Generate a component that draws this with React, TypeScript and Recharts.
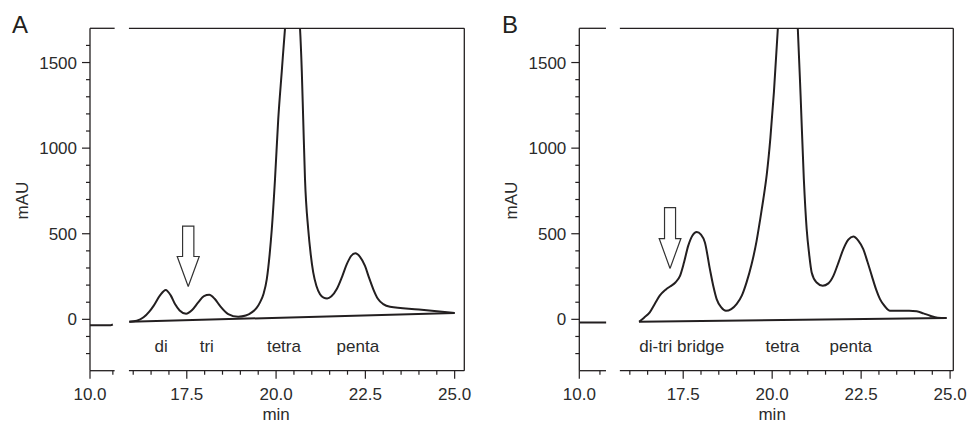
import { LineChart, Line, XAxis, YAxis, ReferenceLine, ReferenceDot } from "recharts";

const INK = "#231f20";
const TEXT = "#2b2b2b";
const FONT = "'Liberation Sans', Arial, sans-serif";
const FS = 17;

// y axis (mAU)
const yTicks = [-200, -100, 0, 100, 200, 300, 400, 500, 600, 700, 800, 900, 1000, 1100, 1200, 1300, 1400, 1500, 1600];
const yMajor = [0, 500, 1000, 1500];

// x axis (min), broken between the stub and the main run
const leftTicks = [10.0, 10.5];
const rightTicks = [16.0, 16.5, 17.0, 17.5, 18.0, 18.5, 19.0, 19.5, 20.0, 20.5, 21.0, 21.5, 22.0, 22.5, 23.0, 23.5, 24.0, 24.5, 25.0];
const xMajor = [10.0, 17.5, 20.0, 22.5, 25.0];
const xMajorLabels = ["10.0", "17.5", "20.0", "22.5", "25.0"];

// panel A
const timeA = [15.89, 16.1, 16.29, 16.45, 16.57, 16.75, 16.91, 17.05, 17.17, 17.3, 17.48, 17.65, 17.82, 17.98, 18.13, 18.28, 18.43, 18.66, 18.94, 19.15, 19.32, 19.45, 19.55, 19.65, 19.74, 19.82, 19.88, 19.97, 20.06, 20.16, 20.25, 20.46, 20.67, 20.72, 20.76, 20.81, 20.9, 20.97, 21.04, 21.13, 21.23, 21.33, 21.43, 21.55, 21.7, 21.85, 21.98, 22.1, 22.22, 22.35, 22.49, 22.6, 22.72, 22.85, 23.0, 23.19, 24.0, 25.0];
const signalA = [-14, -8, 12, 45, 79, 140, 172, 140, 89, 52, 33, 55, 99, 135, 143, 120, 79, 31, 15, 22, 41, 65, 99, 150, 235, 380, 526, 818, 1167, 1450, 1700, 2100, 1700, 1450, 1167, 818, 526, 380, 274, 195, 147, 127, 122, 135, 177, 250, 322, 370, 386, 365, 312, 245, 177, 120, 89, 73, 58, 37];
const baseTimeA = [15.89, 25.0];
const baseValueA = [-14, 37];
const stubTimeA = [10.0, 10.45, 10.5];
const stubValueA = [-35, -35, -30];
const labelTextA = ["di", "tri", "tetra", "penta"];
const labelTimeA = [16.78, 18.06, 20.22, 22.29];

// panel B
const timeB = [16.26, 16.4, 16.56, 16.7, 16.84, 17.0, 17.13, 17.28, 17.41, 17.52, 17.64, 17.76, 17.88, 18.0, 18.11, 18.25, 18.35, 18.44, 18.57, 18.7, 18.85, 19.0, 19.15, 19.28, 19.42, 19.56, 19.66, 19.75, 19.85, 19.95, 20.05, 20.16, 20.44, 20.72, 20.8, 20.89, 20.97, 21.04, 21.11, 21.25, 21.42, 21.58, 21.72, 21.86, 22.0, 22.14, 22.28, 22.42, 22.56, 22.68, 22.8, 22.92, 23.03, 23.17, 23.31, 23.59, 23.85, 24.06, 24.25, 24.44, 24.65, 24.9];
const signalB = [-14, 10, 41, 90, 138, 172, 192, 215, 254, 330, 429, 490, 510, 495, 449, 293, 190, 118, 70, 50, 60, 89, 140, 216, 320, 455, 580, 700, 850, 1060, 1330, 1700, 2300, 1700, 1300, 818, 526, 380, 274, 215, 196, 210, 254, 330, 410, 465, 484, 460, 410, 335, 254, 175, 118, 75, 50, 50, 50, 47, 35, 21, 10, 8];
const baseTimeB = [16.26, 24.9];
const baseValueB = [-14, 8];
const stubTimeB = [10.0, 10.65];
const stubValueB = [-18, -18];
const labelTextB = ["di-tri bridge", "tetra", "penta"];
const labelTimeB = [17.46, 20.29, 22.21];

const labelValue = -161;

type Arrow = { t: number; tip: number; neck: number; top: number; shaft: number; head: number };
const arrowA: Arrow = { t: 17.54, tip: 192, neck: 367, top: 545, shaft: 0.158, head: 0.308 };
const arrowB: Arrow = { t: 17.13, tip: 297, neck: 472, top: 653, shaft: 0.155, head: 0.305 };

type PanelProps = {
  letter: string;
  left: number;
  width: number;
  margin: { top: number; right: number; bottom: number; left: number };
  xMin: number;
  xMax: number;
  stubScale: number;
  gap: [number, number];
  times: number[];
  signal: number[];
  baseTime: number[];
  baseValue: number[];
  stubTime: number[];
  stubValue: number[];
  labelText: string[];
  labelTime: number[];
  arrow: Arrow;
};

function Panel(p: PanelProps) {
  const toX = (t: number) => (t < 13 ? p.xMin + (t - 10) * p.stubScale : t);
  const pts = (ts: number[], vs: number[]) => ts.map((t, i) => ({ x: toX(t), y: vs[i] }));

  const trace = pts(p.times, p.signal);
  const base = pts(p.baseTime, p.baseValue);
  const stub = pts(p.stubTime, p.stubValue);
  const a = p.arrow;
  const arrowPts = [
    { x: a.t, y: a.tip },
    { x: a.t + a.head, y: a.neck },
    { x: a.t + a.shaft, y: a.neck },
    { x: a.t + a.shaft, y: a.top },
    { x: a.t - a.shaft, y: a.top },
    { x: a.t - a.shaft, y: a.neck },
    { x: a.t - a.head, y: a.neck },
    { x: a.t, y: a.tip },
  ];

  const xTicks = [...leftTicks, ...rightTicks].map(toX);
  const majors = xMajor.map((t, i) => ({ d: toX(t), label: xMajorLabels[i] }));

  const XTick = (tp: any) => {
    const v = tp.payload.value;
    const m = majors.find((mm) => Math.abs(mm.d - v) < 1e-6);
    return (
      <g>
        <line x1={tp.x} x2={tp.x} y1={tp.y} y2={tp.y + (m ? 8 : 4)} stroke={INK} strokeWidth={1.2} />
        {m && (
          <text x={tp.x} y={tp.y + 29} textAnchor="middle" fontSize={FS} fill={TEXT} fontFamily={FONT}>
            {m.label}
          </text>
        )}
      </g>
    );
  };

  const YTick = (tp: any) => {
    const v = tp.payload.value;
    const major = yMajor.includes(v);
    return (
      <g>
        <line x1={tp.x - (major ? 8 : 4)} x2={tp.x} y1={tp.y} y2={tp.y} stroke={INK} strokeWidth={1.2} />
        {major && (
          <text x={tp.x - 13} y={tp.y + 6} textAnchor="end" fontSize={FS} fill={TEXT} fontFamily={FONT}>
            {v}
          </text>
        )}
      </g>
    );
  };

  const frame = { stroke: INK, strokeWidth: 1.3, ifOverflow: "visible" as const };

  return (
    <div style={{ position: "absolute", left: p.left, top: 0 }}>
      <div
        style={{ position: "absolute", left: 12, top: 11, fontSize: 24, fontFamily: FONT, color: INK, lineHeight: "28px" }}
      >
        {p.letter}
      </div>
      <LineChart width={p.width} height={423} margin={p.margin}>
        <XAxis
          type="number"
          dataKey="x"
          domain={[p.xMin, p.xMax]}
          allowDataOverflow
          ticks={xTicks}
          interval={0}
          axisLine={false}
          tickLine={false}
          tickSize={0}
          tickMargin={0}
          tick={XTick}
          height={40}
          label={{
            content: (lp: any) => {
              const vb = lp.viewBox;
              const cx = vb.x + ((20 - p.xMin) / (p.xMax - p.xMin)) * vb.width;
              return (
                <text x={cx} y={vb.y + 49} textAnchor="middle" fontSize={FS} fill={TEXT} fontFamily={FONT}>
                  min
                </text>
              );
            },
          }}
        />
        <YAxis
          type="number"
          domain={[-300, 1700]}
          allowDataOverflow
          ticks={yTicks}
          interval={0}
          axisLine={false}
          tickLine={false}
          tickSize={0}
          tickMargin={0}
          tick={YTick}
          width={70}
          label={{
            content: (lp: any) => {
              const vb = lp.viewBox;
              const cx = vb.x + 8;
              const cy = vb.y + vb.height / 2 + 1;
              return (
                <text
                  x={cx}
                  y={cy}
                  transform={`rotate(-90, ${cx}, ${cy})`}
                  textAnchor="middle"
                  fontSize={FS}
                  fill={TEXT}
                  fontFamily={FONT}
                >
                  mAU
                </text>
              );
            },
          }}
        />
        <ReferenceLine x={p.xMin} {...frame} />
        <ReferenceLine x={p.xMax} {...frame} />
        <ReferenceLine segment={[{ x: p.xMin, y: 1700 }, { x: p.gap[0], y: 1700 }]} {...frame} />
        <ReferenceLine segment={[{ x: p.gap[1], y: 1700 }, { x: p.xMax, y: 1700 }]} {...frame} />
        <ReferenceLine segment={[{ x: p.xMin, y: -300 }, { x: p.gap[0], y: -300 }]} {...frame} />
        <ReferenceLine segment={[{ x: p.gap[1], y: -300 }, { x: p.xMax, y: -300 }]} {...frame} />

        <Line data={stub} dataKey="y" type="linear" stroke={INK} strokeWidth={2} dot={false} isAnimationActive={false} />
        <Line data={base} dataKey="y" type="linear" stroke={INK} strokeWidth={2} dot={false} isAnimationActive={false} />
        <Line data={trace} dataKey="y" type="monotone" stroke={INK} strokeWidth={2} dot={false} isAnimationActive={false} />
        <Line data={arrowPts} dataKey="y" type="linear" stroke="#333" strokeWidth={1.2} dot={false} isAnimationActive={false} />

        {p.labelText.map((txt, i) => (
          <ReferenceDot
            key={txt}
            x={p.labelTime[i]}
            y={labelValue}
            r={0}
            ifOverflow="visible"
            shape={(sp: any) => (
              <text x={sp.cx} y={sp.cy + 5} textAnchor="middle" fontSize={FS} fill={TEXT} fontFamily={FONT}>
                {txt}
              </text>
            )}
          />
        ))}
      </LineChart>
    </div>
  );
}

export default function App() {
  return (
    <div style={{ position: "absolute", left: 0, top: 0, width: 967, height: 423, background: "#fff" }}>
      <Panel
        letter="A"
        left={0}
        width={480}
        margin={{ top: 28.3, right: 15.7, bottom: 12.3, left: 20 }}
        xMin={14.79}
        xMax={25.27}
        stubScale={1.28}
        gap={[15.48, 15.88]}
        times={timeA}
        signal={signalA}
        baseTime={baseTimeA}
        baseValue={baseValueA}
        stubTime={stubTimeA}
        stubValue={stubValueA}
        labelText={labelTextA}
        labelTime={labelTimeA}
        arrow={arrowA}
      />
      <Panel
        letter="B"
        left={490}
        width={477}
        margin={{ top: 28.3, right: 13.7, bottom: 12.3, left: 19.3 }}
        xMin={14.58}
        xMax={25.09}
        stubScale={1.16}
        gap={[15.33, 15.72]}
        times={timeB}
        signal={signalB}
        baseTime={baseTimeB}
        baseValue={baseValueB}
        stubTime={stubTimeB}
        stubValue={stubValueB}
        labelText={labelTextB}
        labelTime={labelTimeB}
        arrow={arrowB}
      />
    </div>
  );
}
